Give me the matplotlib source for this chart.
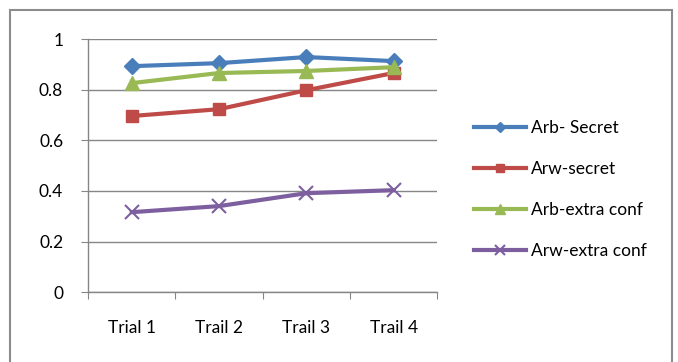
import matplotlib.pyplot as plt
from matplotlib.patches import Rectangle

trials = ['Trial 1', 'Trail 2', 'Trail 3', 'Trail 4']
arb_secret = [0.893, 0.905, 0.929, 0.913]
arw_secret = [0.696, 0.723, 0.798, 0.866]
arb_extra = [0.826, 0.866, 0.874, 0.889]
arw_extra = [0.316, 0.340, 0.391, 0.403]

plt.rcParams['font.family'] = ['Lato', 'DejaVu Sans']

fig = plt.figure(figsize=(6.78, 3.62), dpi=100)
# outer chart frame
fig.patches.append(Rectangle((10 / 678, -0.1), 662 / 678, 1.1 - 10 / 362,
                             transform=fig.transFigure, fill=False,
                             edgecolor='#8c8c8c', linewidth=1.5))

ax = fig.add_axes([0.13, 0.193, 0.515, 0.699])
x = [0.5, 1.5, 2.5, 3.5]

ax.plot(x, arb_secret, color='#4a7ebb', lw=3, marker='D', ms=8, label='Arb- Secret')
ax.plot(x, arw_secret, color='#be4b48', lw=3, marker='s', ms=9, label='Arw-secret')
ax.plot(x, arb_extra, color='#98b954', lw=3, marker='^', ms=10, label='Arb-extra conf')
ax.plot(x, arw_extra, color='#7d5fa0', lw=3, marker='x', ms=10, mew=1.5,
        label='Arw-extra conf')

ax.set_xlim(0, 4)
ax.set_ylim(0, 1)
ax.set_yticks([0, 0.2, 0.4, 0.6, 0.8, 1])
ax.set_yticklabels(['0', '0.2', '0.4', '0.6', '0.8', '1'])
ax.set_xticks([0, 1, 2, 3, 4])
ax.set_xticklabels([])
ax.set_xticks(x, minor=True)
ax.set_xticklabels(trials, minor=True)
ax.tick_params(axis='x', which='minor', length=0, pad=20, labelsize=12.5)
ax.tick_params(axis='x', which='major', length=5, color='#868686', direction='out')
ax.tick_params(axis='y', length=5, color='#868686', direction='out', labelsize=12.5, pad=13)
ax.grid(axis='y', color='#868686', lw=1)
ax.set_axisbelow(True)
for side in ['top', 'right']:
    ax.spines[side].set_visible(False)
for side in ['left', 'bottom']:
    ax.spines[side].set_color('#868686')
    ax.spines[side].set_linewidth(1)

ax.legend(loc='center left', bbox_to_anchor=(1.06, 0.405), frameon=False,
          fontsize=12.5, labelspacing=1.45, handlelength=3.0, handletextpad=0.3,
          markerscale=0.7)

fig.savefig('out.png', dpi=100)
